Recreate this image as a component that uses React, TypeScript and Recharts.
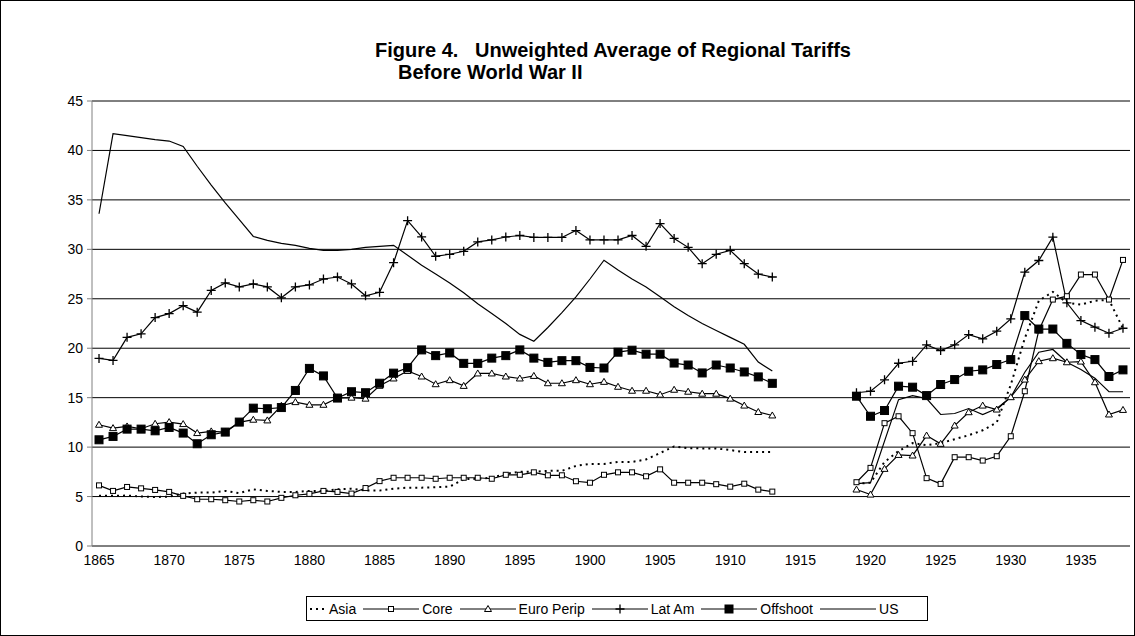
import React from 'react';
import { LineChart, Line, XAxis, YAxis, CartesianGrid, Legend } from 'recharts';

// Years with data
const earlyYears: number[] = Array.from({ length: 49 }, (_, i) => 1865 + i); // 1865..1913
const gapYears: number[] = [1914, 1915, 1916, 1917, 1918];
const lateYears: number[] = Array.from({ length: 20 }, (_, i) => 1919 + i); // 1919..1938

// Series values 1865..1913
const asiaEarly = [5.07, 5.07, 5.1, 5.0, 4.95, 5.0, 5.3, 5.4, 5.4, 5.57,
  5.35, 5.73, 5.57, 5.47, 5.47, 5.57, 5.57, 5.73, 5.8, 5.6,
  5.6, 5.8, 5.9, 5.9, 5.95, 6.0, 6.75, 6.8, 6.9, 7.3,
  7.5, 7.5, 7.6, 7.6, 8.1, 8.3, 8.3, 8.5, 8.5, 8.75,
  9.4, 10.07, 9.9, 9.87, 9.87, 9.7, 9.5, 9.5, 9.5];
const coreEarly = [6.13, 5.57, 5.97, 5.83, 5.67, 5.47, 5.07, 4.73, 4.73, 4.63,
  4.5, 4.63, 4.5, 4.87, 5.13, 5.27, 5.57, 5.47, 5.3, 5.86,
  6.56, 6.9, 6.9, 6.9, 6.8, 6.9, 6.9, 6.9, 6.8, 7.2,
  7.2, 7.45, 7.15, 7.15, 6.55, 6.4, 7.2, 7.45, 7.45, 7.05,
  7.75, 6.4, 6.4, 6.4, 6.25, 6.0, 6.3, 5.7, 5.5];
const euroEarly = [12.26, 11.92, 12.09, 11.86, 12.36, 12.53, 12.33, 11.42, 11.59, 11.52,
  12.5, 12.77, 12.7, 14.18, 14.55, 14.28, 14.28, 14.96, 15.0, 14.9,
  16.2, 16.94, 17.7, 17.14, 16.36, 16.77, 16.19, 17.45, 17.45, 17.14,
  16.94, 17.2, 16.46, 16.46, 16.77, 16.36, 16.6, 16.1, 15.7, 15.7,
  15.3, 15.8, 15.6, 15.4, 15.4, 14.9, 14.2, 13.55, 13.2];
const latAmEarly = [18.97, 18.77, 21.1, 21.46, 23.1, 23.5, 24.3, 23.65, 25.84, 26.6,
  26.2, 26.5, 26.2, 25.1, 26.2, 26.4, 27.0, 27.2, 26.5, 25.3,
  25.65, 28.65, 32.9, 31.25, 29.3, 29.5, 29.8, 30.75, 30.95, 31.25,
  31.4, 31.2, 31.2, 31.2, 31.9, 30.95, 30.95, 30.95, 31.4, 30.3,
  32.6, 31.1, 30.2, 28.55, 29.5, 29.9, 28.55, 27.5, 27.2];
const offshootEarly = [10.74, 11.08, 11.82, 11.82, 11.65, 11.99, 11.42, 10.34, 11.25, 11.52,
  12.53, 13.94, 13.88, 14.0, 15.73, 17.96, 17.2, 14.96, 15.6, 15.5,
  16.46, 17.48, 18.03, 19.83, 19.25, 19.52, 18.47, 18.47, 19.0, 19.25,
  19.83, 19.0, 18.57, 18.74, 18.74, 18.06, 18.0, 19.6, 19.8, 19.4,
  19.4, 18.5, 18.3, 17.5, 18.3, 18.0, 17.6, 17.1, 16.45];
const usEarly = [33.6, 41.7, 41.5, 41.3, 41.1, 40.95, 40.4, 38.4, 36.5, 34.7,
  33.0, 31.3, 30.9, 30.6, 30.4, 30.1, 29.9, 29.9, 30.0, 30.2,
  30.3, 30.4, 29.4, 28.4, 27.5, 26.6, 25.6, 24.5, 23.5, 22.5,
  21.4, 20.7, 22.1, 23.6, 25.2, 27.0, 28.9, 27.9, 27.0, 26.2,
  25.2, 24.2, 23.3, 22.5, 21.8, 21.1, 20.4, 18.6, 17.7];

// Series values 1919..1938
const asiaLate = [6.3, 6.4, 8.5, 9.6, 10.4, 10.2, 10.4, 10.8, 11.2, 11.7,
  12.5, 16.3, 21.0, 24.8, 25.7, 24.6, 24.4, 24.8, 24.9, 22.0];
const coreLate = [6.45, 7.9, 12.42, 13.12, 11.41, 6.86, 6.28, 8.98, 8.98, 8.64,
  9.08, 11.1, 15.65, 21.8, 24.92, 25.26, 27.45, 27.45, 24.92, 28.93];
const euroLate = [5.71, 5.2, 7.8, 9.21, 9.15, 11.17, 10.33, 12.18, 13.53, 14.2,
  13.8, 15.05, 16.83, 18.69, 18.99, 18.58, 18.65, 16.56, 13.3, 13.76];
const latAmLate = [15.5, 15.65, 16.8, 18.48, 18.68, 20.34, 19.77, 20.34, 21.38, 20.95,
  21.72, 22.97, 27.69, 28.87, 31.23, 24.59, 22.8, 22.13, 21.52, 22.02];
const offshootLate = [15.15, 13.12, 13.7, 16.16, 16.06, 15.21, 16.33, 16.83, 17.67, 17.81,
  18.35, 18.85, 23.3, 21.94, 21.94, 20.49, 19.36, 18.85, 17.14, 17.81];
const usLate = [6.3, 6.4, 10.6, 14.8, 15.2, 14.9, 13.3, 13.4, 13.9, 13.3,
  13.9, 15.05, 17.57, 19.6, 19.87, 18.58, 17.84, 16.97, 15.6, 15.6];

const yTicks = [0, 5, 10, 15, 20, 25, 30, 35, 40, 45];
const xLabelTicks = [1865, 1870, 1875, 1880, 1885, 1890, 1895, 1900, 1905, 1910, 1915, 1920, 1925, 1930, 1935];
const xBoundaryTicks = Array.from({ length: 75 }, (_, i) => 1864.5 + i);

const seriesNames = ['Asia', 'Core', 'Euro Perip', 'Lat Am', 'Offshoot', 'US'];

const data = [
  ...earlyYears.map((year, i) => ({
    year, Asia: asiaEarly[i], Core: coreEarly[i], 'Euro Perip': euroEarly[i],
    'Lat Am': latAmEarly[i], Offshoot: offshootEarly[i], US: usEarly[i],
  })),
  ...gapYears.map((year) => ({
    year, Asia: null, Core: null, 'Euro Perip': null, 'Lat Am': null, Offshoot: null, US: null,
  })),
  ...lateYears.map((year, i) => ({
    year, Asia: asiaLate[i], Core: coreLate[i], 'Euro Perip': euroLate[i],
    'Lat Am': latAmLate[i], Offshoot: offshootLate[i], US: usLate[i],
  })),
];

const FONT = '"Liberation Sans", Arial, sans-serif';

const ok = (p: any) => p && p.cx != null && p.cy != null && p.value != null && !Number.isNaN(p.cx) && !Number.isNaN(p.cy);

const CoreMark = ({ cx, cy }: { cx: number; cy: number }) => (
  <rect x={cx - 2.5} y={cy - 2.5} width={5} height={5} fill="#fff" stroke="#000" strokeWidth={1} />
);
const EuroMark = ({ cx, cy }: { cx: number; cy: number }) => (
  <path d={`M${cx},${cy - 3.5} L${cx + 3.5},${cy + 2.5} L${cx - 3.5},${cy + 2.5} Z`} fill="#fff" stroke="#000" strokeWidth={1} />
);
const LatMark = ({ cx, cy }: { cx: number; cy: number }) => (
  <path d={`M${cx - 4.5},${cy} H${cx + 4.5} M${cx},${cy - 4.5} V${cy + 4.5}`} stroke="#000" strokeWidth={1.3} fill="none" />
);
const OffMark = ({ cx, cy }: { cx: number; cy: number }) => (
  <rect x={cx - 4} y={cy - 4} width={8} height={8} fill="#000" stroke="#000" strokeWidth={1} />
);

const mkDot = (Mark: any) => (p: any) =>
  ok(p) ? <g key={p.key}><Mark cx={p.cx} cy={p.cy} /></g> : <g key={p.key} />;

const LegendSample = ({ name }: { name: string }) => {
  const w = name === 'Asia' ? 18 : 56;
  const c = w / 2;
  return (
    <svg width={w} height={12} style={{ display: 'block' }}>
      {name === 'Asia' ? (
        <line x1={2} y1={6} x2={w} y2={6} stroke="#000" strokeWidth={2} strokeDasharray="2 4" />
      ) : (
        <line x1={0} y1={6} x2={w} y2={6} stroke="#000" strokeWidth={1} />
      )}
      {name === 'Core' && <CoreMark cx={c} cy={6} />}
      {name === 'Euro Perip' && <EuroMark cx={c} cy={6} />}
      {name === 'Lat Am' && <LatMark cx={c} cy={6} />}
      {name === 'Offshoot' && <OffMark cx={c} cy={6} />}
    </svg>
  );
};

const LegendBox = () => (
  <div
    style={{
      boxSizing: 'border-box', width: 622, height: 25, border: '1px solid #000', background: '#fff',
      display: 'flex', alignItems: 'center', justifyContent: 'flex-start', gap: 7, paddingLeft: 1,
      fontFamily: FONT, fontSize: 14, color: '#000',
    }}
  >
    {seriesNames.map((n) => (
      <div key={n} style={{ display: 'flex', alignItems: 'center', gap: 3 }}>
        <LegendSample name={n} />
        <span>{n}</span>
      </div>
    ))}
  </div>
);

export default function App() {
  return (
    <div style={{ position: 'absolute', left: 0, top: 0, width: 1135, height: 636, background: '#fff', fontFamily: FONT }}>
      <div style={{ position: 'absolute', left: 375, top: 39, fontWeight: 'bold', fontSize: 20, lineHeight: '22px', whiteSpace: 'pre', color: '#000' }}>
        {'Figure 4.   Unweighted Average of Regional Tariffs'}
      </div>
      <div style={{ position: 'absolute', left: 398, top: 61, fontWeight: 'bold', fontSize: 20, lineHeight: '22px', whiteSpace: 'pre', color: '#000' }}>
        {'Before World War II'}
      </div>
      <LineChart width={1135} height={636} data={data} margin={{ top: 101, right: 5, bottom: 60, left: 0 }}>
        <CartesianGrid xAxisId="yr" vertical={false} stroke="#000" strokeWidth={1} />
        <XAxis
          xAxisId="tk" dataKey="year" type="number" domain={[1864.5, 1938.5]} allowDataOverflow
          ticks={xBoundaryTicks} interval={0} height={0} tickSize={5} tickFormatter={() => ''}
          stroke="#000" axisLine={{ stroke: '#000' }} tickLine={{ stroke: '#000' }}
        />
        <XAxis
          xAxisId="yr" dataKey="year" type="number" domain={[1864.5, 1938.5]} allowDataOverflow
          ticks={xLabelTicks} interval={0} height={30} tickSize={6} tickMargin={3}
          axisLine={false} tickLine={false}
          tick={{ fill: '#000', fontSize: 14, fontFamily: FONT }}
        />
        <YAxis
          domain={[0, 45]} ticks={yTicks} interval={0} width={92} tickSize={5} tickMargin={4}
          axisLine={{ stroke: '#808080' }} tickLine={{ stroke: '#808080' }}
          tick={{ fill: '#000', fontSize: 14, fontFamily: FONT }}
        />
        <Legend
          verticalAlign="middle" align="center" layout="horizontal"
          wrapperStyle={{ left: 306, top: 596, width: 622, height: 25 }}
          content={() => <LegendBox />}
        />
        <Line xAxisId="yr" type="linear" dataKey="US" stroke="#000" strokeWidth={1.2} dot={false} activeDot={false} isAnimationActive={false} connectNulls={false} />
        <Line xAxisId="yr" type="linear" dataKey="Asia" stroke="#000" strokeWidth={2} strokeDasharray="2 4" dot={false} activeDot={false} isAnimationActive={false} connectNulls={false} />
        <Line xAxisId="yr" type="linear" dataKey="Core" stroke="#000" strokeWidth={1.2} dot={mkDot(CoreMark)} activeDot={false} isAnimationActive={false} connectNulls={false} />
        <Line xAxisId="yr" type="linear" dataKey="Euro Perip" stroke="#000" strokeWidth={1.2} dot={mkDot(EuroMark)} activeDot={false} isAnimationActive={false} connectNulls={false} />
        <Line xAxisId="yr" type="linear" dataKey="Lat Am" stroke="#000" strokeWidth={1.2} dot={mkDot(LatMark)} activeDot={false} isAnimationActive={false} connectNulls={false} />
        <Line xAxisId="yr" type="linear" dataKey="Offshoot" stroke="#000" strokeWidth={1.2} dot={mkDot(OffMark)} activeDot={false} isAnimationActive={false} connectNulls={false} />
      </LineChart>
      <div style={{ position: 'absolute', left: 0, top: 0, width: 1135, height: 636, boxSizing: 'border-box', border: '1px solid #000', pointerEvents: 'none' }} />
    </div>
  );
}
